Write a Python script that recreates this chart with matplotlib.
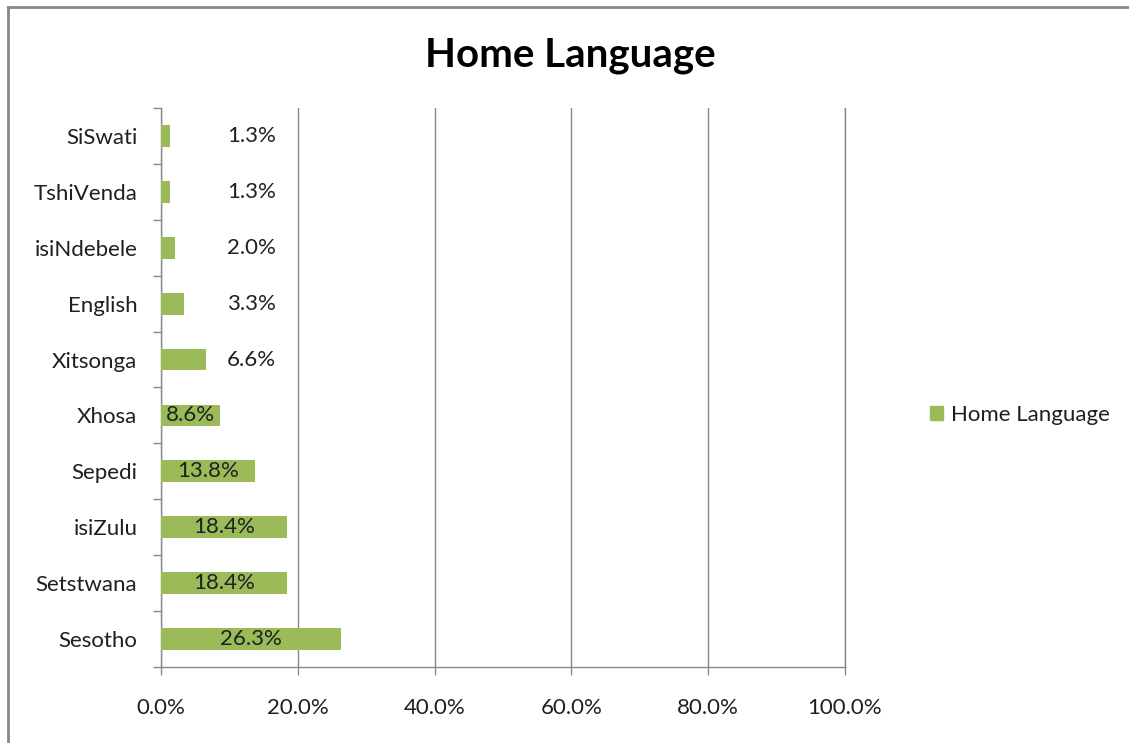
import matplotlib.pyplot as plt
from matplotlib.lines import Line2D
from matplotlib.patches import Patch

# Home language share of respondents, bottom to top
languages = ['Sesotho', 'Setstwana', 'isiZulu', 'Sepedi', 'Xhosa',
             'Xitsonga', 'English', 'isiNdebele', 'TshiVenda', 'SiSwati']
share = [26.3, 18.4, 18.4, 13.8, 8.6, 6.6, 3.3, 2.0, 1.3, 1.3]
x_ticks = [0, 20, 40, 60, 80, 100]
x_labels = ['0.0%', '20.0%', '40.0%', '60.0%', '80.0%', '100.0%']

bar_color = '#9BBB59'
text_color = '#1f1f1f'
line_color = '#888888'
fs = 16

plt.rcParams['font.family'] = ['Lato', 'DejaVu Sans']

fig = plt.figure(figsize=(11.29, 7.43), dpi=100)
ax = fig.add_axes([161 / 1129, 1 - 667 / 743, 684 / 1129, (667 - 108) / 743])

pos = list(range(len(languages)))
ax.barh(pos, share, height=0.39, color=bar_color, zorder=3)

# value labels: centred in the bar, short bars get theirs out to the right
for y, v in zip(pos, share):
    lx = v / 2 if v >= 8 else 13.2
    ax.text(lx, y, '%.1f%%' % v, ha='center', va='center',
            fontsize=fs, color=text_color, zorder=4)

ax.set_xlim(0, 100)
ax.set_ylim(-0.5, len(languages) - 0.5)
ax.set_xticks(x_ticks)
ax.set_xticklabels(x_labels, fontsize=fs, color=text_color)
ax.xaxis.grid(True, color=line_color, linewidth=1)
ax.set_axisbelow(True)
ax.tick_params(axis='x', length=6, width=1, color=line_color, pad=16)

# category ticks sit between the bars, names sit on the bars
ax.set_yticks([p - 0.5 for p in pos] + [len(languages) - 0.5])
ax.set_yticklabels([])
ax.set_yticks(pos, minor=True)
ax.set_yticklabels(languages, minor=True, fontsize=fs, color=text_color)
ax.tick_params(axis='y', which='major', length=6, width=1, color=line_color)
ax.tick_params(axis='y', which='minor', length=0, pad=17)

ax.spines['top'].set_visible(False)
for side in ['left', 'bottom', 'right']:
    ax.spines[side].set_color(line_color)
    ax.spines[side].set_linewidth(1)

fig.text(570 / 1129, 1 - 55 / 743, 'Home Language', ha='center', va='center',
         fontsize=29, fontweight='bold', color='black')

fig.legend(handles=[Patch(color=bar_color, label='Home Language')],
           loc='center left', bbox_to_anchor=(910 / 1129, 1 - 415 / 743),
           frameon=False, fontsize=fs, handlelength=0.6, handleheight=0.6,
           handletextpad=0.35, labelcolor=text_color)

# chart frame along the top and left edges
fig.add_artist(Line2D([8 / 1129, 8 / 1129], [0, 1 - 7 / 743],
                      transform=fig.transFigure, color=line_color, linewidth=2))
fig.add_artist(Line2D([8 / 1129, 1], [1 - 7 / 743, 1 - 7 / 743],
                      transform=fig.transFigure, color=line_color, linewidth=2))

fig.savefig('out.png', dpi=100)
